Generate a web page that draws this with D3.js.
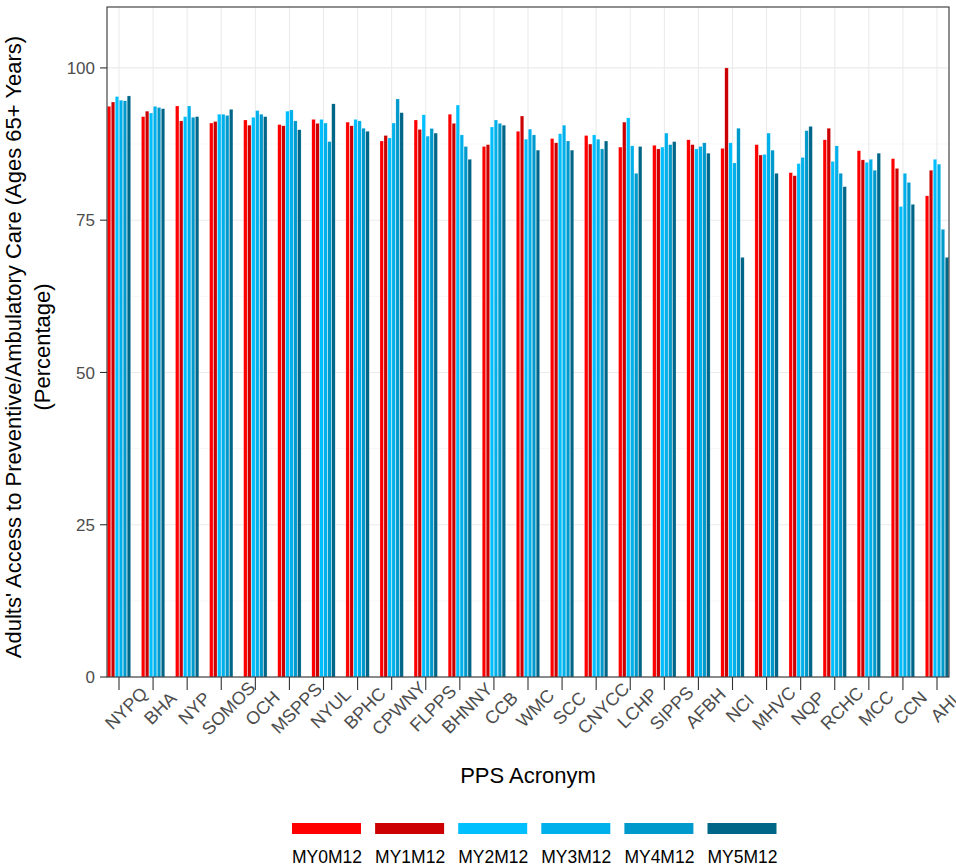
<!DOCTYPE html>
<head>
    <title>Adults' Access to Preventive Care</title>
    <meta charset='utf-8'>
    <script type='text/javascript' src='https://d3js.org/d3.v7.min.js'></script>
    <style>
        body { margin: 0; background: white; }
        text { font-family: 'Liberation Sans', Arial, sans-serif; }
    </style>
</head>

<body>
    <div id='chart'></div>

    <script>
    // ---------------- data ----------------
    var categories = ['NYPQ', 'BHA', 'NYP', 'SOMOS', 'OCH', 'MSPPS', 'NYUL', 'BPHC', 'CPWNY', 'FLPPS',
        'BHNNY', 'CCB', 'WMC', 'SCC', 'CNYCC', 'LCHP', 'SIPPS', 'AFBH', 'NCI', 'MHVC',
        'NQP', 'RCHC', 'MCC', 'CCN', 'AHI'];
    var series = ['MY0M12', 'MY1M12', 'MY2M12', 'MY3M12', 'MY4M12', 'MY5M12'];
    var seriesColors = ['#ff0000', '#cc0000', '#00bfff', '#00b0eb', '#0099cc', '#006688'];

    var MY0M12 = [93.7, 92.0, 93.75, 90.95, 91.45, 90.7, 91.55, 91.1, 88.0, 91.45,
        92.4, 87.1, 89.6, 88.4, 88.9, 87.0, 87.3, 88.2, 86.8, 87.4,
        82.8, 88.2, 86.4, 85.1, 79.0];
    var MY1M12 = [94.4, 92.9, 91.3, 91.2, 90.6, 90.5, 90.9, 90.5, 88.9, 89.9,
        90.9, 87.4, 92.1, 87.7, 87.5, 91.1, 86.7, 87.4, 100.0, 85.7,
        82.3, 90.1, 84.9, 83.5, 83.2];
    var MY2M12 = [95.3, 92.6, 92.0, 92.4, 91.9, 92.9, 91.55, 91.55, 88.5, 92.3,
        93.9, 90.3, 88.3, 89.2, 89.0, 91.8, 87.0, 86.7, 87.7, 85.8,
        84.3, 84.65, 84.5, 77.25, 85.0];
    var MY3M12 = [94.7, 93.7, 93.75, 92.4, 93.0, 93.1, 90.95, 91.3, 90.95, 88.8,
        89.0, 91.45, 89.95, 90.6, 88.3, 87.2, 89.3, 87.1, 84.4, 89.3,
        85.3, 87.2, 85.0, 82.7, 84.2];
    var MY4M12 = [94.6, 93.5, 91.9, 92.2, 92.4, 91.3, 87.9, 90.1, 94.9, 90.05,
        87.1, 90.9, 89.0, 88.0, 86.7, 82.7, 87.4, 87.7, 90.1, 86.5,
        89.7, 82.7, 83.2, 81.2, 73.5];
    var MY5M12 = [95.4, 93.3, 92.0, 93.2, 92.0, 89.85, 94.1, 89.6, 92.65, 89.3,
        85.0, 90.6, 86.5, 86.5, 88.0, 87.1, 87.9, 86.0, 68.9, 82.7,
        90.4, 80.5, 86.0, 77.6, 68.9];
    var seriesValues = [MY0M12, MY1M12, MY2M12, MY3M12, MY4M12, MY5M12];

    var yTicks = [0, 25, 50, 75, 100];
    var yMinorTicks = [12.5, 37.5, 62.5, 87.5];

    // ---------------- svg ----------------
    var width = 956, height = 867;
    var panel = {left: 107, right: 949, top: 7, bottom: 677};

    const svg = d3.select('#chart').append('svg')
        .attr('width', width)
        .attr('height', height);

    var x = d3.scalePoint()
        .domain(categories)
        .range([panel.left, panel.right])
        .padding(0.352);

    var groupWidth = x.step() * 0.70;
    var xSub = d3.scaleBand()
        .domain(series)
        .range([-groupWidth / 2, groupWidth / 2])
        .paddingInner(0.12)
        .paddingOuter(0.06);

    var y = d3.scaleLinear()
        .domain([0, 110])
        .range([panel.bottom, panel.top]);

    var color = d3.scaleOrdinal().domain(series).range(seriesColors);

    // grid
    var grid = svg.append('g');
    grid.selectAll('.minor')
        .data(yMinorTicks)
        .enter().append('line')
        .attr('x1', panel.left).attr('x2', panel.right)
        .attr('y1', d => y(d)).attr('y2', d => y(d))
        .attr('stroke', '#f2f2f2').attr('stroke-width', 0.6);
    grid.selectAll('.major')
        .data(yTicks)
        .enter().append('line')
        .attr('x1', panel.left).attr('x2', panel.right)
        .attr('y1', d => y(d)).attr('y2', d => y(d))
        .attr('stroke', '#ebebeb').attr('stroke-width', 1.1);
    grid.selectAll('.vmajor')
        .data(categories)
        .enter().append('line')
        .attr('x1', d => x(d)).attr('x2', d => x(d))
        .attr('y1', panel.top).attr('y2', panel.bottom)
        .attr('stroke', '#ebebeb').attr('stroke-width', 1.1);

    // bars
    var rows = [];
    categories.forEach(function (c, i) {
        series.forEach(function (s, j) {
            rows.push({cat: c, ser: s, value: seriesValues[j][i]});
        });
    });

    svg.append('g')
        .selectAll('rect')
        .data(rows)
        .enter().append('rect')
        .attr('x', d => x(d.cat) + xSub(d.ser))
        .attr('width', xSub.bandwidth())
        .attr('y', d => y(d.value))
        .attr('height', d => y(0) - y(d.value))
        .attr('fill', d => color(d.ser))
        .attr('stroke', 'white')
        .attr('stroke-width', 0.4)
        .attr('stroke-opacity', 0.6);

    // panel border
    svg.append('rect')
        .attr('x', panel.left).attr('y', panel.top)
        .attr('width', panel.right - panel.left)
        .attr('height', panel.bottom - panel.top)
        .attr('fill', 'none')
        .attr('stroke', '#333333')
        .attr('stroke-width', 1.1);

    // y axis
    var yAxis = svg.append('g');
    yAxis.selectAll('line')
        .data(yTicks)
        .enter().append('line')
        .attr('x1', panel.left - 7).attr('x2', panel.left)
        .attr('y1', d => y(d)).attr('y2', d => y(d))
        .attr('stroke', '#333333').attr('stroke-width', 1.1);
    yAxis.selectAll('text')
        .data(yTicks)
        .enter().append('text')
        .attr('x', panel.left - 12)
        .attr('y', d => y(d))
        .attr('dy', '0.36em')
        .attr('text-anchor', 'end')
        .attr('fill', '#4d4d4d')
        .style('font-size', '17px')
        .text(d => d);

    // x axis
    var xAxis = svg.append('g');
    xAxis.selectAll('line')
        .data(categories)
        .enter().append('line')
        .attr('x1', d => x(d)).attr('x2', d => x(d))
        .attr('y1', panel.bottom).attr('y2', panel.bottom + 13)
        .attr('stroke', '#333333').attr('stroke-width', 1.1);
    xAxis.selectAll('text')
        .data(categories)
        .enter().append('text')
        .attr('transform', d => 'translate(' + (x(d) + 7) + ',' + (panel.bottom + 31) + ') rotate(-45)')
        .attr('dy', '0.36em')
        .attr('text-anchor', 'middle')
        .attr('fill', '#4d4d4d')
        .style('font-size', '18px')
        .text(d => d);

    // titles
    svg.append('text')
        .attr('x', (panel.left + panel.right) / 2)
        .attr('y', 783)
        .attr('text-anchor', 'middle')
        .attr('fill', 'black')
        .style('font-size', '22px')
        .text('PPS Acronym');

    var yTitle = svg.append('text')
        .attr('transform', 'translate(0,' + ((panel.top + panel.bottom) / 2 + 5) + ') rotate(-90)')
        .attr('text-anchor', 'middle')
        .attr('fill', 'black')
        .style('font-size', '22px');
    yTitle.append('tspan').attr('x', 0).attr('y', 21)
        .text("Adults' Access to Preventive/Ambulatory Care (Ages 65+ Years)");
    yTitle.append('tspan').attr('x', 0).attr('y', 50)
        .text('(Percentage)');

    // legend
    var legend = svg.append('g');
    var legendX = d3.scaleBand().domain(series).range([292, 292 + 83.1 * 6]);
    legend.selectAll('rect')
        .data(series)
        .enter().append('rect')
        .attr('x', d => legendX(d))
        .attr('y', 823)
        .attr('width', 69)
        .attr('height', 11)
        .attr('fill', d => color(d));
    legend.selectAll('text')
        .data(series)
        .enter().append('text')
        .attr('x', d => legendX(d))
        .attr('y', 863)
        .attr('fill', 'black')
        .style('font-size', '17.5px')
        .text(d => d);
    </script>
</body>
</html>
